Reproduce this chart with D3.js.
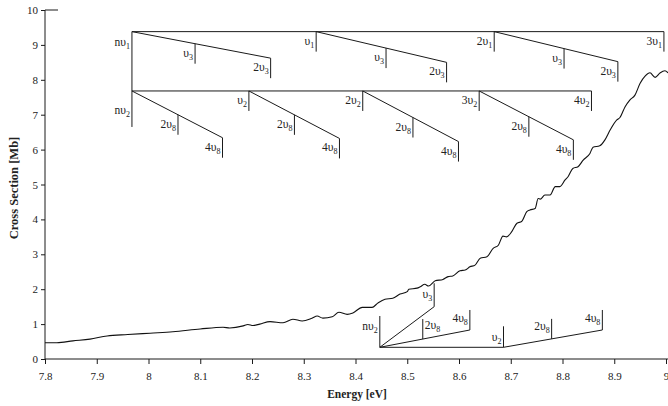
<!DOCTYPE html>
<html><head><meta charset="utf-8">
<script src="https://cdn.jsdelivr.net/npm/d3@7"></script>
<style>
html,body{margin:0;padding:0;background:#fff;}
svg text{font-family:"Liberation Serif","Times New Roman",serif;fill:#222;}
</style></head>
<body><svg id="c" width="668" height="406"></svg>
<script>
// ---- data ----
const energy = [7.800,7.823,7.854,7.887,7.920,7.960,8.003,8.047,8.100,8.144,8.157,8.183,8.192,8.202,8.215,8.235,8.260,8.279,8.297,8.316,8.326,8.337,8.355,8.368,8.384,8.395,8.413,8.432,8.443,8.457,8.472,8.486,8.500,8.503,8.519,8.525,8.534,8.541,8.554,8.569,8.579,8.588,8.602,8.612,8.621,8.631,8.641,8.654,8.666,8.676,8.685,8.692,8.702,8.712,8.721,8.731,8.737,8.747,8.753,8.757,8.766,8.776,8.786,8.795,8.805,8.811,8.820,8.830,8.840,8.853,8.859,8.872,8.882,8.892,8.905,8.911,8.921,8.930,8.940,8.950,8.960,8.969,8.979,8.988,8.998,9.004];
const crossSection = [0.465,0.467,0.52,0.57,0.66,0.70,0.74,0.78,0.86,0.91,0.89,0.95,0.99,0.96,1.00,1.07,1.04,1.14,1.09,1.17,1.23,1.17,1.21,1.34,1.28,1.32,1.48,1.48,1.60,1.71,1.74,1.86,1.93,2.00,2.03,2.07,2.14,2.09,2.24,2.28,2.36,2.38,2.53,2.55,2.64,2.69,2.89,2.93,3.17,3.26,3.52,3.50,3.65,3.89,3.94,4.22,4.27,4.31,4.60,4.58,4.70,4.70,4.94,4.94,5.13,5.23,5.46,5.51,5.70,5.89,6.07,6.11,6.28,6.56,6.85,6.92,7.23,7.42,7.56,7.90,8.11,8.20,8.07,8.19,8.26,8.20];
const xTicks = [7.8,7.9,8.0,8.1,8.2,8.3,8.4,8.5,8.6,8.7,8.8,8.9,9.0];
const xTickLabels = ["7.8","7.9","8","8.1","8.2","8.3","8.4","8.5","8.6","8.7","8.8","8.9","9"];
const yTicks = [0,1,2,3,4,5,6,7,8,9,10];
const yTickLabels = ["0","1","2","3","4","5","6","7","8","9","10"];

// progression assignments (energies in eV, levels in Mb)
const row1Level = 9.38, row2Level = 7.68;
const row1Origins = [7.968, 8.324, 8.668];
const row1OriginLabels = [["nυ","1"],["υ","1"],["2υ","1"]];
const row1Mid = [8.090, 8.459, 8.803];
const row1End = [8.236, 8.576, 8.907];
const row1EndLevel = [8.62, 8.50, 8.52];
const row1Last = 8.996, row1LastLabel = ["3υ","1"];
const row2Origins = [7.968, 8.194, 8.414, 8.639];
const row2OriginLabels = [["nυ","2"],["υ","2"],["2υ","2"],["3υ","2"]];
const row2Mid = [8.057, 8.282, 8.511, 8.735];
const row2End = [8.143, 8.369, 8.599, 8.821];
const row2EndLevel = [6.34, 6.32, 6.23, 6.28];
const row2Last = 8.856, row2LastLabel = ["4υ","2"];
// lower progression
const lowOrigin = [8.447, 0.335];
const lowNu3 = [8.552, 1.499, 2.17];
const lowNu8a = [8.530, 8.621, 0.831];
const lowNu2 = 8.686;
const lowNu8b = [8.779, 8.877, 0.831];

// ---- drawing ----
const svg = d3.select("#c");
const x = d3.scaleLinear().domain([7.8, 9.0]).range([45, 666]);
const y = d3.scaleLinear().domain([0, 10]).range([359, 10]);
const ink = "#1a1a1a";

// axes
const gx = svg.append("g").attr("transform","translate(0,359)")
  .call(d3.axisBottom(x).tickValues(xTicks).tickSize(5).tickSizeOuter(0)
    .tickFormat((d,i)=>xTickLabels[i]));
gx.select(".domain").remove();
gx.selectAll("line").attr("stroke",ink);
gx.selectAll("text").attr("font-size",11).attr("dy","1.2em").attr("fill","#222");
svg.append("line").attr("x1",45).attr("x2",668).attr("y1",359).attr("y2",359).attr("stroke",ink);

const gy = svg.append("g").attr("transform","translate(45,0)")
  .call(d3.axisLeft(y).tickValues(yTicks).tickSize(4).tickSizeOuter(0)
    .tickFormat((d,i)=>yTickLabels[i]));
gy.select(".domain").remove();
gy.selectAll("line").attr("stroke",ink);
gy.selectAll("text").attr("font-size",11).attr("x",-7).attr("fill","#222");
svg.append("line").attr("x1",45).attr("x2",45).attr("y1",y(10)).attr("y2",359).attr("stroke",ink);
svg.append("line").attr("x1",45).attr("x2",58).attr("y1",y(10)).attr("y2",y(10)).attr("stroke",ink);

svg.append("text").attr("x",357).attr("y",398).attr("text-anchor","middle")
  .attr("font-size",11.5).attr("font-weight","bold").text("Energy [eV]");
svg.append("text").attr("transform","translate(18,188) rotate(-90)").attr("text-anchor","middle")
  .attr("font-size",12.5).attr("font-weight","bold").text("Cross Section [Mb]");

// curve
const pts = energy.map((e,i)=>[e, crossSection[i]]);
svg.append("path").datum(pts)
  .attr("d", d3.line().x(d=>x(d[0])).y(d=>y(d[1])).curve(d3.curveMonotoneX))
  .attr("fill","none").attr("stroke","#111").attr("stroke-width",1.1);

// annotation helpers
const ga = svg.append("g");
function seg(x1,y1,x2,y2){ ga.append("line").attr("x1",x1).attr("y1",y1).attr("x2",x2).attr("y2",y2).attr("stroke",ink).attr("stroke-width",1); }
function label(lbl, px, py, anchor){
  const t = ga.append("text").attr("x",px).attr("y",py).attr("font-size",11.5).attr("text-anchor",anchor||"end").attr("fill","#333");
  t.append("tspan").text(lbl[0]);
  t.append("tspan").attr("font-size",8).attr("dy",3).text(lbl[1]);
}
const TL = 20, OFF = 13;
function progressionRow(level, origins, oLabels, mids, midLabel, ends, endLabel, endLevels, last, lastLabel){
  const Y = y(level);
  seg(x(origins[0]), Y, x(last), Y);
  origins.forEach((o,i)=>{
    const ox = x(o), ex = x(ends[i]), ey = y(endLevels[i]);
    seg(ox, Y, ex, ey);
    if(i>0){ seg(ox, Y, ox, Y+TL); label(oLabels[i], ox-2, Y+OFF); }
    const mx = x(mids[i]), my = Y + (ey-Y)*(mx-ox)/(ex-ox);
    seg(mx, my, mx, my+TL); label(midLabel, mx-2, my+OFF);
    seg(ex, ey, ex, ey+TL); label(endLabel, ex-2, ey+OFF);
  });
  seg(x(last), Y, x(last), Y+TL); label(lastLabel, x(last)-2, Y+OFF);
}
progressionRow(row1Level, row1Origins, row1OriginLabels, row1Mid, ["υ","3"], row1End, ["2υ","3"], row1EndLevel, row1Last, row1LastLabel);
progressionRow(row2Level, row2Origins, row2OriginLabels, row2Mid, ["2υ","8"], row2End, ["4υ","8"], row2EndLevel, row2Last, row2LastLabel);
// shared origin vertical
const ox0 = x(row1Origins[0]);
seg(ox0, y(row1Level), ox0, y(row2Level)+36);
label(row1OriginLabels[0], ox0-2, y(row1Level)+OFF+1);
label(row2OriginLabels[0], ox0-2, y(row2Level)+23);

// lower progression
const LX = x(lowOrigin[0]), LY = y(lowOrigin[1]);
seg(LX, LY, LX, y(1.232)); label(["nυ","2"], LX-2, y(1.232)+14);
const u3x = x(lowNu3[0]);
seg(LX, LY, u3x, y(lowNu3[1])); seg(u3x, y(lowNu3[1]), u3x, y(lowNu3[2]));
label(["υ","3"], u3x-2, y(lowNu3[2])+15);
const a2x = x(lowNu8a[0]), a4x = x(lowNu8a[1]), aEy = y(lowNu8a[2]);
seg(LX, LY, a4x, aEy);
const a2y = LY + (aEy-LY)*(a2x-LX)/(a4x-LX);
seg(a2x, a2y, a2x, a2y-TL); label(["2υ","8"], a2x+2, a2y-TL+10, "start");
seg(a4x, aEy, a4x, aEy-TL); label(["4υ","8"], a4x-2, aEy-TL+12);
const n2x = x(lowNu2);
seg(LX, LY, n2x, LY); seg(n2x, LY, n2x, LY-21); label(["υ","2"], n2x-2, LY-21+15);
const b2x = x(lowNu8b[0]), b4x = x(lowNu8b[1]), bEy = y(lowNu8b[2]);
seg(n2x, LY, b4x, bEy);
const b2y = LY + (bEy-LY)*(b2x-n2x)/(b4x-n2x);
seg(b2x, b2y, b2x, b2y-TL); label(["2υ","8"], b2x-2, b2y-TL+11);
seg(b4x, bEy, b4x, bEy-TL); label(["4υ","8"], b4x-2, bEy-TL+12);
</script></body></html>
